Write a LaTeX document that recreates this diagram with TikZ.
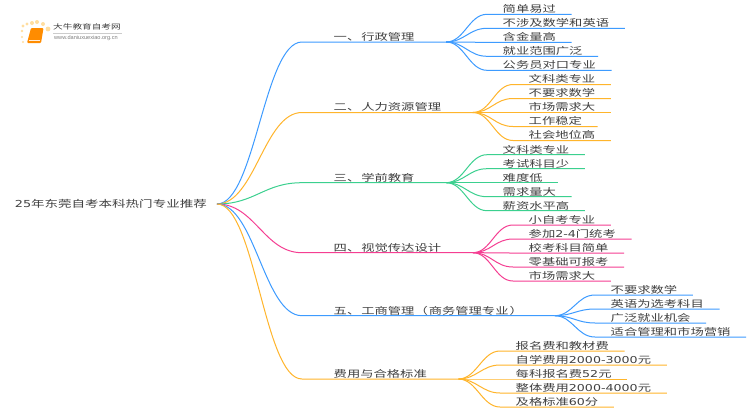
\documentclass[tikz,border=0pt]{standalone}
\usepackage{fontspec}
\setmainfont[FakeStretch=1.4]{Noto Sans CJK SC}
\newfontfamily\urlfont{Liberation Sans}
\newfontfamily\digitfont[FakeStretch=1.33]{DejaVu Sans}
\newcommand{\gap}{\hspace{1pt}}
\usetikzlibrary{positioning}
\definecolor{myblue}{HTML}{3D9BFF}
\definecolor{myorange}{HTML}{FFB52B}
\definecolor{mygreen}{HTML}{3BD08F}
\definecolor{mypink}{HTML}{F53E92}
\definecolor{mytext}{HTML}{404040}
\tikzset{
  branch/.style={anchor=south west,inner xsep=31.5pt,inner ysep=0.5pt,text height=8pt,text depth=1pt,text=mytext,font=\fontsize{9.5}{12}\selectfont},
  leaf/.style={anchor=south west,inner xsep=15.5pt,inner ysep=0.5pt,text height=8pt,text depth=1pt,text=mytext,font=\fontsize{9.5}{12}\selectfont},
}
\begin{document}
\begin{tikzpicture}[x=1pt,y=-1pt]
\useasboundingbox (0,0) rectangle (750,410);
\fill[white] (0,0) rectangle (750,410);

\node[anchor=east,inner xsep=10pt,text=mytext,font=\fontsize{9.65}{13}\selectfont] (root) at (217,204) {{\digitfont 25}年东莞自考本科热门专业推荐};

\node[branch] (b1) at (302,42) {一、\gap 行政管理};
\node[branch] (b2) at (302,112.5) {二、\gap 人力资源管理};
\node[branch] (b3) at (302,182.7) {三、\gap 学前教育};
\node[branch] (b4) at (302,252.7) {四、\gap 视觉传达设计};
\node[branch] (b5) at (302,315.7) {五、\gap 工商管理（\gap 商务管理专业\gap ）};
\node[branch] (b6) at (302,379) {费用与合格标准};

\node[leaf] (a1) at (487,14.3) {简单易过};
\node[leaf] (a2) at (487,28.3) {不涉及数学和英语};
\node[leaf] (a3) at (487,42.3) {含金量高};
\node[leaf] (a4) at (487,56.3) {就业范围广泛};
\node[leaf] (a5) at (487,70.3) {公务员对口专业};

\node[leaf] (c1) at (513,84.5) {文科类专业};
\node[leaf] (c2) at (513,98.5) {不要求数学};
\node[leaf] (c3) at (513,112.5) {市场需求大};
\node[leaf] (c4) at (513,126.5) {工作稳定};
\node[leaf] (c5) at (513,140.5) {社会地位高};

\node[leaf] (d1) at (487,154.7) {文科类专业};
\node[leaf] (d2) at (487,168.7) {考试科目少};
\node[leaf] (d3) at (487,182.7) {难度低};
\node[leaf] (d4) at (487,196.7) {需求量大};
\node[leaf] (d5) at (487,210.7) {薪资水平高};

\node[leaf] (e1) at (513,225) {小自考专业};
\node[leaf] (e2) at (513,239) {参加{\digitfont 2-4}门统考};
\node[leaf] (e3) at (513,253) {校考科目简单};
\node[leaf] (e4) at (513,267) {零基础可报考};
\node[leaf] (e5) at (513,281) {市场需求大};

\node[leaf] (f1) at (595,295) {不要求数学};
\node[leaf] (f2) at (595,309) {英语为选考科目};
\node[leaf] (f3) at (595,323) {广泛就业机会};
\node[leaf] (f4) at (595,337) {适合管理和市场营销};

\node[leaf] (g1) at (500,351) {报名费和教材费};
\node[leaf] (g2) at (500,365) {自学费用{\digitfont 2000-3000}元};
\node[leaf] (g3) at (500,379) {每科报名费{\digitfont 52}元};
\node[leaf] (g4) at (500,393) {整体费用{\digitfont 2000-4000}元};
\node[leaf] (g5) at (500,407) {及格标准{\digitfont 60}分};

\foreach \b/\c in {b1/myblue,b2/myorange,b3/mygreen,b4/mypink,b5/myblue,b6/myorange}
\draw[\c,line width=1pt] (root.east) .. controls +(38,0) and +(-38,0) .. (\b.south west) -- (\b.south east);

\foreach \n in {a1,a2,a3,a4,a5}
\draw[myblue,line width=1pt] (b1.south east) .. controls +(18,0) and +(-18,0) .. (\n.south west) -- (\n.south east);
\foreach \n in {c1,c2,c3,c4,c5}
\draw[myorange,line width=1pt] (b2.south east) .. controls +(18,0) and +(-18,0) .. (\n.south west) -- (\n.south east);
\foreach \n in {d1,d2,d3,d4,d5}
\draw[mygreen,line width=1pt] (b3.south east) .. controls +(18,0) and +(-18,0) .. (\n.south west) -- (\n.south east);
\foreach \n in {e1,e2,e3,e4,e5}
\draw[mypink,line width=1pt] (b4.south east) .. controls +(18,0) and +(-18,0) .. (\n.south west) -- (\n.south east);
\foreach \n in {f1,f2,f3,f4}
\draw[myblue,line width=1pt] (b5.south east) .. controls +(18,0) and +(-18,0) .. (\n.south west) -- (\n.south east);
\foreach \n in {g1,g2,g3,g4,g5}
\draw[myorange,line width=1pt] (b6.south east) .. controls +(18,0) and +(-18,0) .. (\n.south west) -- (\n.south east);

\fill[myorange!45] (23,26) circle [radius=1.7pt] (27,24) circle [radius=1.7pt] (32,23) circle [radius=2pt] (37,22) circle [radius=2pt] (43,24) circle [radius=2pt] (48,29) circle [radius=2.4pt] (22,31) circle [radius=1.3pt] (22,37) circle [radius=1.1pt] (23,42) circle [radius=1.1pt];
\fill[orange!90!yellow,rounded corners=1pt] (31,28) -- (43.5,28) -- (41,43) -- (27,43) -- cycle;
\draw[white!85!orange,line width=0.7pt] (29,40) -- (40,40);
\node[inner sep=0pt,anchor=west,text=mytext,font=\fontsize{6.9}{9}\selectfont] (logotitle) at (53,27) {大牛教育自考网};
\node[inner sep=0pt,anchor=west,text=gray,font=\urlfont\fontsize{5.6}{7}\selectfont] (logourl) at (54,38.5) {www.daniuxuexiao.org.cn};
\draw[black!20,line width=0.5pt] (53,33) -- (122,33);
\end{tikzpicture}
\end{document}
